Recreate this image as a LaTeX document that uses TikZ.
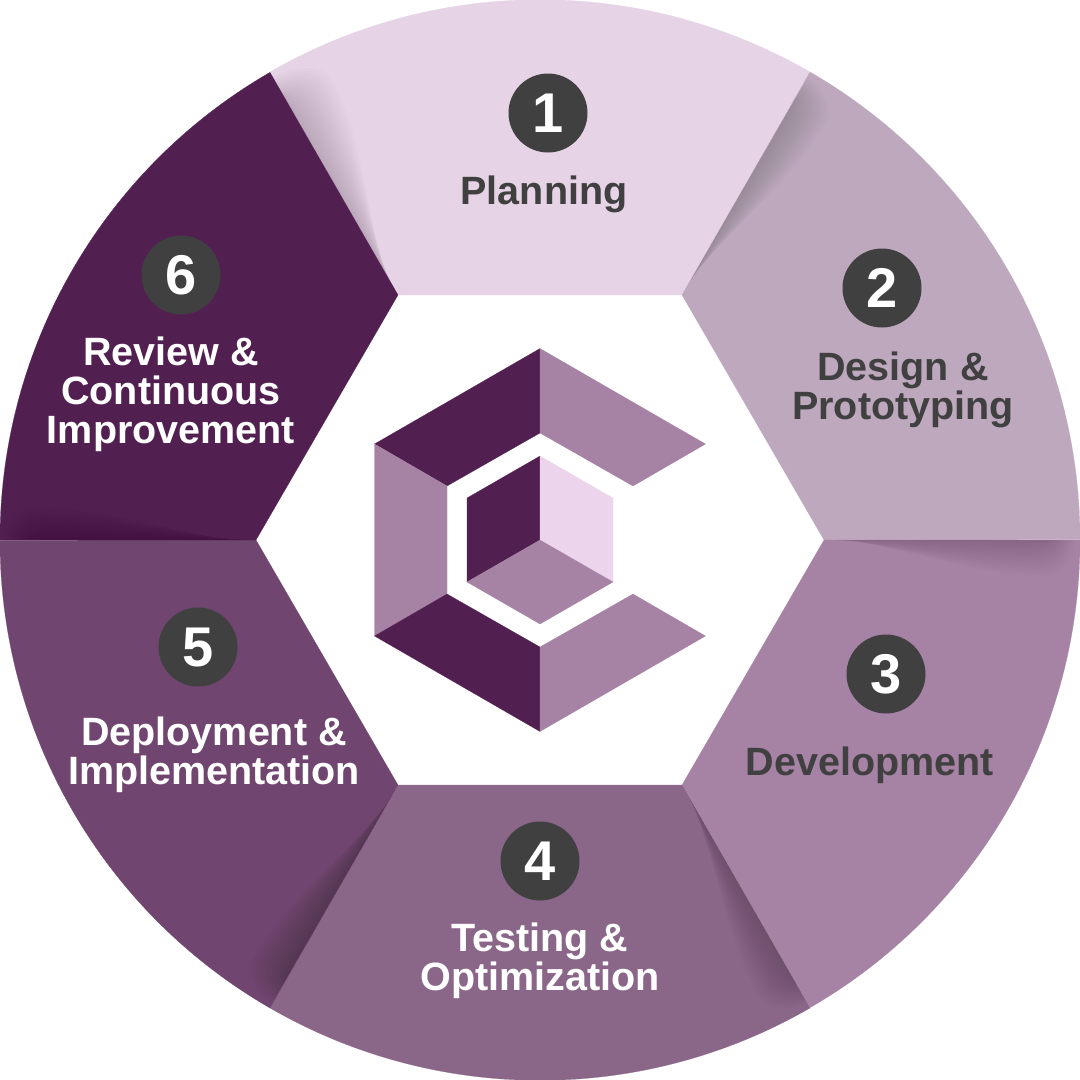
\documentclass[tikz,border=0pt]{standalone}
\usepackage{fontspec}
\setmainfont{Liberation Sans}
\definecolor{segone}{HTML}{E6D3E6}
\definecolor{segtwo}{HTML}{BEA8BE}
\definecolor{segthree}{HTML}{A682A5}
\definecolor{segfour}{HTML}{8A6788}
\definecolor{segfive}{HTML}{70456F}
\definecolor{segsix}{HTML}{521F51}
\definecolor{logolight}{HTML}{ECD5EC}
\definecolor{darkgrey}{HTML}{404040}
\tikzset{
  numdisc/.style={circle,fill=darkgrey,text=white,minimum size=79pt,inner sep=0pt,font=\fontsize{56}{56}\bfseries\selectfont},
  steplabel/.style={align=center,inner sep=0pt,font=\fontsize{39.5}{39}\bfseries\selectfont}
}

\begin{document}
\begin{tikzpicture}[x=1pt,y=-1pt]
  \newcommand\drawfacet[2]{\fill[#1,draw=#1,line width=.2pt] #2 -- cycle;}
  \useasboundingbox (0,0) rectangle (1080,1080);

  \foreach \n/\x/\y/\u/\v in {1/398/295/270/72,2/682/295/810/72,3/824/540/1080/540,4/682/785/810/1008,5/398/785/270/1008,6/256/540/0/540}{
    \coordinate (inner\n) at (\x,\y);
    \coordinate (outer\n) at (\u,\v);
  }

% ring segments with the shadow thrown by the previous one
  \foreach \n/\m/\a/\col/\wid/\op in {1/2/120/segone/3.6/.013,2/3/60/segtwo/2.8/.012,3/4/0/segthree/2.6/.012,4/5/-60/segfour/2.8/.012,5/6/-120/segfive/2.8/.012,6/1/180/segsix/2.4/.008}{
    \fill[\col,draw=\col,line width=.2pt] (inner\n) -- (outer\n) arc[start angle=\a,end angle=\a-60,radius=540pt] -- (inner\m) -- cycle;
    \begin{scope}
      \clip (inner\n) -- (outer\n) arc[start angle=\a,end angle=\a-60,radius=540pt] -- (inner\m) -- cycle;
      \begin{scope}[shift={(inner\n)},rotate=\a]
        \foreach \k in {1,...,14}{
          \pgfmathsetmacro\w{\k*\wid}
          \pgfmathsetmacro\s{2*\k}
          \pgfmathsetmacro\e{224+2*\k}
          \fill[black,opacity=\op] (\s,0) .. controls (\s+60,.3*\w) and (\e-90,\w) .. (\e-32,\w) .. controls (\e-12,\w) and (\e-3,.5*\w) .. (\e,0) -- cycle;
        }
      \end{scope}
    \end{scope}
  }

% number discs and labels
  \foreach \n/\x/\y/\col/\lx/\ly/\text in {
    1/548/113/darkgrey/544/194/Planning,
    2/882/288/darkgrey/903/390/{Design \&\\Prototyping},
    3/886/674/darkgrey/870/765/Development,
    4/540/861/white/540/961/{Testing \&\\Optimization},
    5/198/647/white/214/755/{Deployment \&\\Implementation},
    6/181/275/white/171/394/{Review \&\\Continuous\\Improvement}}{
    \node[numdisc] (disc\n) at (\x,\y) {\n};
    \node[steplabel,text=\col] (label\n) at (\lx,\ly) {\text};
  }

% logo in the middle
  \drawfacet{segsix}{(540,348.5) -- (540,433) -- (447,486) -- (374.5,444)}
  \drawfacet{segthree}{(540,348.5) -- (705.5,444) -- (633,486) -- (540,433)}
  \drawfacet{segthree}{(374.5,444) -- (447,486) -- (447,594) -- (374.5,636)}
  \drawfacet{segsix}{(374.5,636) -- (447,594) -- (540,647) -- (540,731.5)}
  \drawfacet{segthree}{(540,647) -- (633,594) -- (705.5,636) -- (540,731.5)}
  \drawfacet{segsix}{(540,456) -- (467,498) -- (467,582) -- (540,540)}
  \drawfacet{logolight}{(540,456) -- (613,498) -- (613,582) -- (540,540)}
  \drawfacet{segthree}{(540,540) -- (613,582) -- (540,624) -- (467,582)}
\end{tikzpicture}
\end{document}
